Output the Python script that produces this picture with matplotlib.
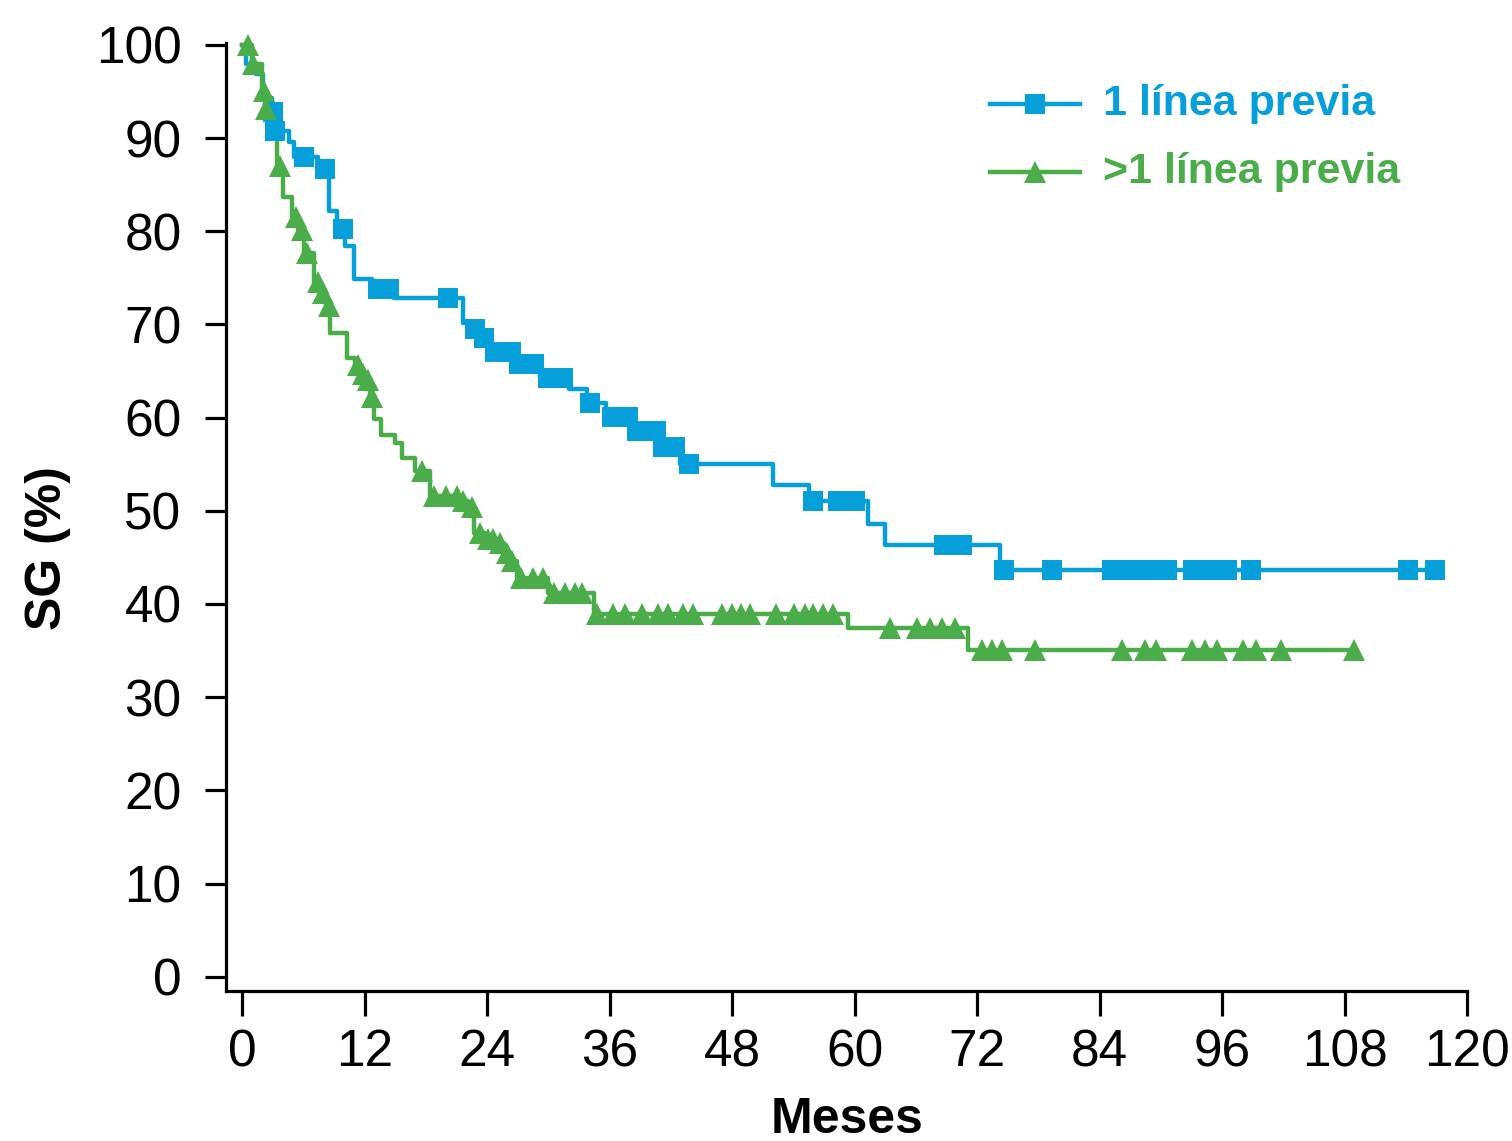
import numpy as np
import matplotlib
matplotlib.use("Agg")
import matplotlib.pyplot as plt
from matplotlib.lines import Line2D

plt.rcParams['font.family'] = ['Liberation Sans', 'DejaVu Sans']

# ---- data ----
blue_label = "1 línea previa"
green_label = ">1 línea previa"

blue_time = [0, 0.4, 1.3, 2.0, 2.9, 3.1, 4.6, 5.1, 7.4, 8.5, 9.3, 10.1, 10.9, 12.7, 14.9,
             21.6, 22.3, 23.3, 24.2, 26.5, 29.2, 32.0, 33.8, 35.6, 38.2, 40.8, 42.9,
             52.0, 55.5, 61.3, 63.0, 74.2]
blue_surv = [100, 98.0, 96.9, 94.3, 92.8, 90.8, 89.6, 88.0, 86.7, 82.2, 80.2, 78.4, 74.9, 73.8, 72.8,
             70.1, 69.5, 68.5, 67.0, 65.7, 64.3, 63.1, 61.6, 60.1, 58.6, 56.8, 55.0,
             52.8, 51.1, 48.6, 46.3, 43.7]
blue_censor = [3.0, 3.2, 6.0, 8.1, 9.9, 13.3, 14.4, 20.2, 22.8, 23.7, 24.8, 26.3, 27.1, 28.6,
               30.0, 31.4, 34.1, 36.2, 37.8, 38.7, 40.5, 41.2, 42.4, 43.8, 55.9, 58.4, 60.0,
               68.8, 70.5, 74.6, 79.3, 85.2, 87.1, 88.9, 90.6, 93.2, 94.8, 96.5, 98.8,
               114.2, 116.9]

green_time = [0, 0.9, 1.9, 2.2, 3.4, 4.0, 4.9, 5.5, 6.0, 7.0, 7.6, 8.2, 8.6, 10.3, 11.0, 11.6,
              12.1, 12.5, 12.9, 13.6, 15.0, 15.6, 16.9, 18.4, 21.3, 22.1, 22.7, 23.8, 25.0,
              25.6, 26.2, 26.9, 30.0, 34.5, 59.3, 71.1]
green_surv = [100, 98.0, 95.1, 93.1, 87.0, 83.7, 81.5, 80.1, 77.7, 74.5, 73.4, 72.0, 69.1, 66.4,
              65.6, 64.7, 64.0, 62.2, 59.9, 58.1, 57.3, 55.7, 54.3, 51.6, 51.1, 50.4, 47.6,
              47.0, 46.5, 45.5, 44.6, 42.8, 41.2, 38.9, 37.4, 35.1]
green_censor = [0.6, 1.0, 2.1, 2.3, 3.7, 5.3, 5.8, 6.3, 7.4, 7.9, 8.5, 11.3, 11.8, 12.3, 12.7,
                17.6, 18.8, 20.0, 21.0, 21.6, 22.5, 23.3, 24.1, 24.6, 25.2, 25.9, 26.4,
                27.3, 28.5, 29.5, 30.5, 31.6, 32.6, 33.3,
                34.8, 36.3, 37.5, 39.2, 40.7, 41.7, 43.2, 44.2, 47.0, 48.0, 48.9, 49.7,
                52.3, 54.1, 55.1, 55.9, 56.9, 57.9,
                63.5, 66.1, 67.4, 68.6, 69.8,
                72.5, 73.5, 74.4, 77.7, 86.2, 88.4, 89.5, 93.1, 94.3, 95.5, 98.1, 99.3,
                101.8, 108.9]

x_ticks = [0, 12, 24, 36, 48, 60, 72, 84, 96, 108, 120]
y_ticks = [0, 10, 20, 30, 40, 50, 60, 70, 80, 90, 100]

BLUE = '#069fd9'
GREEN = '#4aad4a'
LW = 3.2
MS_SQ = 15
MS_TRI = 16.5

W, H = 1512, 1141
fig = plt.figure(figsize=(W / 100, H / 100), dpi=100)
ax_l, ax_r, ax_b, ax_t = 226, 1467, 990.7, 43
ax = fig.add_axes([ax_l / W, 1 - ax_b / H, (ax_r - ax_l) / W, (ax_b - ax_t) / H])


def level(t, times, surv):
    times = np.asarray(times)
    idx = np.searchsorted(times, t, side='right') - 1
    return np.asarray(surv)[idx]


def draw(times, surv, censor, color, marker, ms):
    end = max(censor[-1], times[-1])
    tt = list(times) + [end]
    ss = list(surv) + [surv[-1]]
    ax.step(tt, ss, where='post', color=color, lw=LW, clip_on=False, zorder=3)
    c = np.asarray(censor)
    ax.plot(c, level(c, times, surv), ls='none', marker=marker, ms=ms, color=color,
            mew=0, clip_on=False, zorder=4)


draw(blue_time, blue_surv, blue_censor, BLUE, 's', MS_SQ)
draw(green_time, green_surv, green_censor, GREEN, '^', MS_TRI)

ax.set_xlim(-1.6, 120)
ax.set_ylim(-1.5, 100.2)
ax.set_xticks(x_ticks)
ax.set_yticks(y_ticks)
for s in ['top', 'right']:
    ax.spines[s].set_visible(False)
for s in ['left', 'bottom']:
    ax.spines[s].set_linewidth(2.3)
ax.tick_params(axis='x', length=18, width=2.3, direction='out', labelsize=37, pad=9)
ax.tick_params(axis='y', length=15, width=2.3, direction='out', labelsize=37, pad=17)

fig.text(48 / W, 1 - 548 / H, 'SG (%)', rotation=90, ha='center', va='center',
         fontsize=36, fontweight='bold')
fig.text(847 / W, 1 - 1133 / H, 'Meses', ha='center', va='baseline',
         fontsize=36, fontweight='bold')

# legend
for (label, color, marker, ms, yy) in [(blue_label, BLUE, 's', MS_SQ, 104),
                                       (green_label, GREEN, '^', MS_TRI, 172)]:
    fy = 1 - yy / H
    fig.add_artist(Line2D([990 / W, 1080 / W], [fy, fy], color=color, lw=LW))
    fig.add_artist(Line2D([1035 / W], [fy], color=color, marker=marker, ms=ms, mew=0, ls='none'))
    fig.text(1103 / W, fy, label, color=color, fontsize=31, fontweight='bold',
             ha='left', va='center')

fig.savefig('out.png', dpi=100)
